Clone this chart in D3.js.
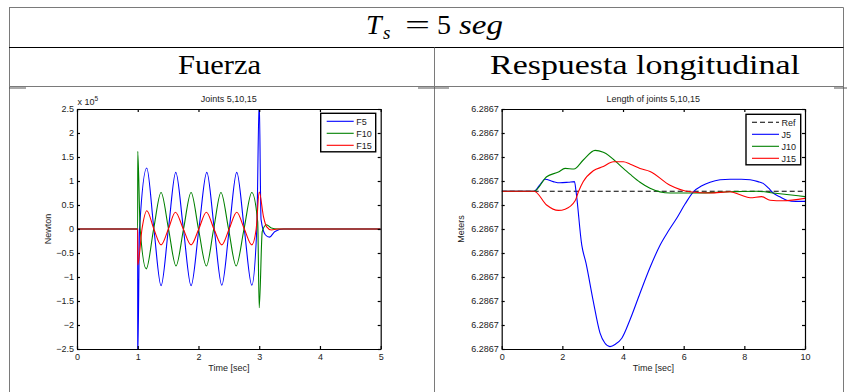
<!DOCTYPE html>
<html>
<head>
<meta charset="utf-8">
<script src="https://cdn.jsdelivr.net/npm/d3@7"></script>
<style>
  body { margin: 0; background: #fff; }
  svg { display: block; }
</style>
</head>
<body>
<svg id="chart" width="847" height="392"></svg>
<script>
(function () {
    // ---- data ----
    // left panel: forces, in units of 10^5 N  [time sec, value]
    const f5 = [[0,0],[0.999,0],[1.0,-2.7],[1.03,0],[1.148,1.27],[1.266,0],[1.384,-1.18],[1.505,0],[1.626,1.18],[1.752,0],[1.878,-1.18],[2.007,0],[2.137,1.18],[2.26,0],[2.384,-1.17],[2.507,0],[2.63,1.18],[2.754,0],[2.878,-1.17],[2.96,0],[3.0,2.7],[3.03,0.2],[3.1,-0.12],[3.17,-0.17],[3.26,-0.05],[3.4,0],[5,0]];
    const f10 = [[0,0],[0.999,0],[1.0,1.62],[1.04,0],[1.14,-0.83],[1.262,0],[1.384,0.76],[1.507,0],[1.63,-0.77],[1.754,0],[1.878,0.76],[2.0,0],[2.13,-0.77],[2.25,0],[2.37,0.76],[2.495,0],[2.62,-0.77],[2.75,0],[2.878,0.76],[2.975,0.15],[3.0,-1.64],[3.05,-0.05],[3.12,0.09],[3.2,0.02],[3.3,0],[5,0]];
    const f15 = [[0,0],[0.999,0],[1.0,-0.75],[1.07,0],[1.15,0.38],[1.265,0],[1.384,-0.33],[1.505,0],[1.62,0.35],[1.75,0],[1.878,-0.33],[2.005,0],[2.13,0.35],[2.255,0],[2.384,-0.33],[2.505,0],[2.63,0.35],[2.755,0],[2.878,-0.33],[2.95,0],[3.0,0.77],[3.07,0.26],[3.12,0.05],[3.2,-0.02],[3.3,0],[5,0]];
    const forceNames = ["F5", "F10", "F15"];
    const forceTicksX = [0, 1, 2, 3, 4, 5];
    const forceTicksY = [-2.5, -2, -1.5, -1, -0.5, 0, 0.5, 1, 1.5, 2, 2.5];

    // right panel: joint length, metres  [time sec, value]
    const ref = [[0,6.2867063],[10,6.2867063]];
    const j5 = [[0,6.2867063],[1.07,6.2867063],[1.25,6.2867073],[1.43,6.2867083],[1.7,6.2867079],[1.92,6.2867077],[2.2,6.2867078],[2.4,6.2867079],[2.45,6.2867063],[2.64,6.2866973],[2.78,6.2866943],[3.01,6.2866882],[3.24,6.2866827],[3.4,6.2866810],[3.57,6.2866804],[3.75,6.2866808],[3.96,6.2866818],[4.24,6.2866850],[4.56,6.2866893],[4.9,6.2866937],[5.22,6.2866973],[5.5,6.2866997],[5.77,6.2867018],[6.05,6.2867042],[6.32,6.2867062],[6.6,6.2867072],[6.87,6.2867078],[7.2,6.2867082],[7.53,6.2867083],[7.9,6.2867083],[8.19,6.2867082],[8.45,6.2867079],[8.62,6.2867076],[8.8,6.2867068],[8.95,6.2867060],[9.2,6.2867053],[9.4,6.2867048],[9.7,6.2867046],[10,6.2867046]];
    const j10 = [[0,6.2867063],[1.07,6.2867063],[1.48,6.2867087],[1.87,6.2867095],[2.09,6.2867101],[2.38,6.2867100],[2.69,6.2867115],[3.08,6.2867131],[3.35,6.2867128],[4.01,6.2867101],[4.24,6.2867091],[4.56,6.2867078],[4.89,6.2867068],[5.55,6.2867060],[6.43,6.2867060],[7.53,6.2867062],[8.41,6.2867063],[8.95,6.2867060],[10,6.2867054]];
    const j15 = [[0,6.2867063],[1.07,6.2867063],[1.48,6.2867040],[1.87,6.2867031],[2.09,6.2867033],[2.42,6.2867047],[2.53,6.2867062],[2.69,6.2867079],[3.02,6.2867097],[3.35,6.2867104],[3.68,6.2867112],[4.01,6.2867112],[4.24,6.2867108],[4.56,6.2867101],[4.89,6.2867096],[5.55,6.2867073],[6.21,6.2867062],[6.87,6.2867060],[7.53,6.2867062],[7.86,6.2867057],[8.19,6.2867052],[8.57,6.2867054],[8.85,6.2867048],[9.28,6.2867047],[10,6.2867051]];
    const lengthNames = ["Ref", "J5", "J10", "J15"];
    const lengthTicksX = [0, 2, 4, 6, 8, 10];
    const lengthTicksY = [6.286680, 6.286684, 6.286688, 6.286692, 6.286696, 6.286700, 6.286704, 6.286708, 6.286712, 6.286716, 6.286720];

    const colors = ["#0000ff", "#008000", "#ff0000"];
    const tickFont = "Liberation Sans, Arial, sans-serif";
    const serif = "Liberation Serif, Times New Roman, serif";

    const svg = d3.select("#chart");

    // ---- table frame ----
    const grey = "#7a7a7a";
    const frame = svg.append("g").attr("fill", "none");
    frame.append("line").attr("x1", 9).attr("x2", 843.5).attr("y1", 7.5).attr("y2", 7.5).attr("stroke", grey);
    frame.append("line").attr("x1", 9.5).attr("x2", 9.5).attr("y1", 7.5).attr("y2", 392).attr("stroke", grey);
    frame.append("line").attr("x1", 843.5).attr("x2", 843.5).attr("y1", 7.5).attr("y2", 392).attr("stroke", grey);
    frame.append("line").attr("x1", 9).attr("x2", 843.5).attr("y1", 47.5).attr("y2", 47.5).attr("stroke", "#000");
    frame.append("line").attr("x1", 434.5).attr("x2", 434.5).attr("y1", 47.5).attr("y2", 392).attr("stroke", grey);
    frame.append("line").attr("x1", 9).attr("x2", 843.5).attr("y1", 86.5).attr("y2", 86.5).attr("stroke", grey);
    [[9, 26], [418, 449], [834, 847]].forEach(s => {
        frame.append("line").attr("x1", s[0]).attr("x2", s[1]).attr("y1", 88).attr("y2", 88)
            .attr("stroke", "#555").attr("stroke-width", 1);
    });

    // header: T_s = 5 seg
    const head = svg.append("text").attr("y", 33.5)
        .attr("font-family", serif).attr("font-size", 28).attr("fill", "#000");
    head.append("tspan").attr("x", 366).attr("font-style", "italic").text("T");
    head.append("tspan").attr("x", 383).attr("font-style", "italic").attr("font-size", 19).attr("dy", 5).text("s");
    head.append("tspan").attr("x", 405).attr("dy", -5)
        .attr("textLength", 25).attr("lengthAdjust", "spacingAndGlyphs").text("=");
    head.append("tspan").attr("x", 437).text("5");
    head.append("tspan").attr("x", 459).attr("font-style", "italic")
        .attr("textLength", 44).attr("lengthAdjust", "spacingAndGlyphs").text("seg");

    svg.append("text").attr("x", 178).attr("y", 73.5)
        .attr("font-family", serif).attr("font-size", 28)
        .attr("textLength", 83).attr("lengthAdjust", "spacingAndGlyphs")
        .text("Fuerza");
    svg.append("text").attr("x", 490).attr("y", 73.5)
        .attr("font-family", serif).attr("font-size", 28)
        .attr("textLength", 310).attr("lengthAdjust", "spacingAndGlyphs")
        .text("Respuesta longitudinal");

    // ---- one matlab-style panel ----
    function panel(opt) {
        const x = d3.scaleLinear().domain(opt.xDomain).range([opt.left, opt.right]);
        const y = d3.scaleLinear().domain(opt.yDomain).range([349, 109]);
        const g = svg.append("g");

        const clipId = "clip" + opt.id;
        svg.append("clipPath").attr("id", clipId).append("rect")
            .attr("x", opt.left).attr("y", 109).attr("width", opt.right - opt.left).attr("height", 240);

        // series
        const line = d3.line().x(d => x(d[0])).y(d => y(d[1])).curve(d3.curveMonotoneX);
        opt.series.forEach((s, i) => {
            g.append("path").datum(s.data)
                .attr("clip-path", "url(#" + clipId + ")")
                .attr("fill", "none")
                .attr("stroke", s.color)
                .attr("stroke-width", 1.1)
                .attr("stroke-dasharray", s.dash || null)
                .attr("d", line);
        });

        // axes, inward ticks on four sides
        const ax = [
            d3.axisBottom(x).tickValues(opt.xTicks).tickSize(-3).tickSizeOuter(0).tickPadding(4.5).tickFormat(d3.format("~g")),
            d3.axisTop(x).tickValues(opt.xTicks).tickSize(-3).tickSizeOuter(0).tickFormat(""),
            d3.axisLeft(y).tickValues(opt.yTicks).tickSize(-3).tickSizeOuter(0).tickPadding(3).tickFormat(opt.yFormat),
            d3.axisRight(y).tickValues(opt.yTicks).tickSize(-3).tickSizeOuter(0).tickFormat("")
        ];
        const pos = ["translate(0,349)", "translate(0,109)", "translate(" + opt.left + ",0)", "translate(" + opt.right + ",0)"];
        ax.forEach((a, i) => {
            const ga = g.append("g").attr("transform", pos[i]).call(a);
            ga.selectAll("path, line").attr("stroke", "#000").attr("stroke-width", 1.2);
            ga.selectAll("text").attr("font-family", tickFont).attr("font-size", 9).attr("fill", "#222");
        });

        // title and labels
        const cx = (opt.left + opt.right) / 2;
        g.append("text").attr("x", cx).attr("y", 101.5).attr("text-anchor", "middle")
            .attr("font-family", tickFont).attr("font-size", 9).attr("fill", "#222").text(opt.title);
        g.append("text").attr("x", cx).attr("y", 371).attr("text-anchor", "middle")
            .attr("font-family", tickFont).attr("font-size", 9).attr("fill", "#222").text("Time [sec]");
        g.append("text").attr("transform", "translate(" + opt.yLabelX + ",229) rotate(-90)")
            .attr("text-anchor", "middle")
            .attr("font-family", tickFont).attr("font-size", 9).attr("fill", "#222").text(opt.yLabel);

        // legend
        const lg = g.append("g");
        lg.append("rect").attr("x", opt.legend.x).attr("y", opt.legend.y)
            .attr("width", opt.legend.w).attr("height", 12 * opt.series.length + 2.5)
            .attr("fill", "#fff").attr("stroke", "#000").attr("stroke-width", 1.4);
        opt.series.forEach((s, i) => {
            const ly = opt.legend.y + 8 + 12 * i;
            lg.append("line").attr("x1", opt.legend.x + 6).attr("x2", opt.legend.x + 33)
                .attr("y1", ly).attr("y2", ly)
                .attr("stroke", s.color).attr("stroke-width", 1.1)
                .attr("stroke-dasharray", s.dash || null);
            lg.append("text").attr("x", opt.legend.x + 35.5).attr("y", ly + 3.2)
                .attr("font-family", tickFont).attr("font-size", 9).attr("fill", "#222").text(s.name);
        });
        return g;
    }

    panel({
        id: "F", left: 77, right: 380.7,
        xDomain: [0, 5], yDomain: [-2.5, 2.5],
        xTicks: forceTicksX, yTicks: forceTicksY, yFormat: d3.format("~g"),
        title: "Joints 5,10,15", yLabel: "Newton", yLabelX: 51,
        legend: { x: 320.7, y: 113.3, w: 55 },
        series: [
            { name: forceNames[0], data: f5, color: colors[0] },
            { name: forceNames[1], data: f10, color: colors[1] },
            { name: forceNames[2], data: f15, color: colors[2] }
        ]
    });

    // x 10^5 exponent label
    const ex = svg.append("text").attr("x", 77.5).attr("y", 105)
        .attr("font-family", tickFont).attr("font-size", 9).attr("fill", "#222");
    ex.append("tspan").text("x 10");
    ex.append("tspan").attr("font-size", 6.5).attr("dy", -4).text("5");

    panel({
        id: "L", left: 501.7, right: 805,
        xDomain: [0, 10], yDomain: [6.28668, 6.28672],
        xTicks: lengthTicksX, yTicks: lengthTicksY, yFormat: d3.format(".4f"),
        title: "Length of joints 5,10,15", yLabel: "Meters", yLabelX: 464,
        legend: { x: 746, y: 114.3, w: 54.7 },
        series: [
            { name: lengthNames[0], data: ref, color: "#000", dash: "5,3" },
            { name: lengthNames[1], data: j5, color: colors[0] },
            { name: lengthNames[2], data: j10, color: colors[1] },
            { name: lengthNames[3], data: j15, color: colors[2] }
        ]
    });
})();
</script>
</body>
</html>
